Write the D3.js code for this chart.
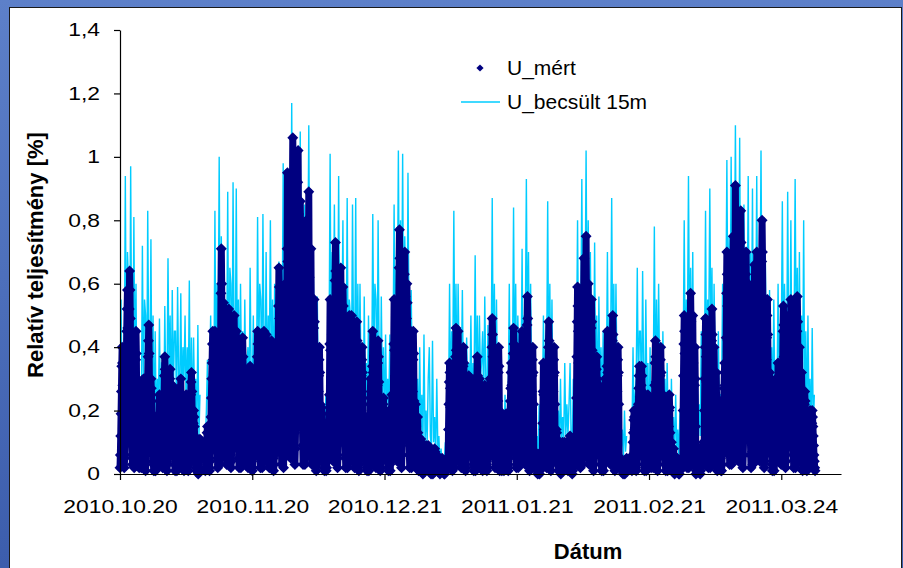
<!DOCTYPE html>
<html>
<head>
<meta charset="utf-8">
<script src="https://cdn.jsdelivr.net/npm/d3@7"></script>
<style>
  body { margin: 0; background: #fff; }
  svg { display: block; }
  text { font-family: Arial, "Liberation Sans", sans-serif; fill: #000; }
</style>
</head>
<body>
<div id="chart"></div>
<script>
// time span of the chart (UTC days)
var startDate = new Date(Date.UTC(2010, 9, 20));
var endDate = new Date(Date.UTC(2011, 3, 7));
var tickDates = ["2010-10-20", "2010-11-20", "2010-12-21", "2011-01-21", "2011-02-21", "2011-03-24"];
var yTicks = [0, 0.2, 0.4, 0.6, 0.8, 1.0, 1.2, 1.4];

// U_mert: measured, one value every 2 hours (12 per day, one row per day), in hundredths
var mertHours = 2;
var mert = [
 2,6,12,19,26,34,40,35,28,20,12,5,
 2,5,9,16,23,31,38,45,52,58,46,32,
 26,40,52,64,58,49,38,29,20,13,6,3,
 27,19,11,5,2,7,16,26,36,45,38,23,
 3,7,11,15,11,6,2,5,8,12,9,5,
 2,5,9,14,20,25,30,26,21,15,9,4,
 1,4,8,13,19,25,31,37,42,47,38,26,
 12,19,25,30,27,23,18,14,10,6,3,1,
 8,5,3,1,1,2,5,8,10,13,11,7,
 5,11,19,25,18,10,4,8,14,20,15,8,
 2,6,11,18,24,31,37,33,26,19,11,4,
 1,3,5,9,13,17,22,26,30,33,26,18,
 11,17,23,28,25,21,17,13,9,6,3,1,
 16,11,7,3,1,4,9,16,22,27,23,14,
 6,14,23,30,21,12,5,9,17,24,18,9,
 1,4,8,12,17,21,25,22,18,13,8,3,
 1,3,5,9,13,17,21,25,29,32,26,18,
 8,12,16,20,18,15,12,9,6,4,2,1,
 7,5,3,1,0,2,4,6,9,11,9,6,
 null,null,null,null,null,null,null,null,null,null,null,null,
 1,2,5,7,10,13,15,13,11,8,5,2,
 1,4,7,12,18,24,30,35,41,45,36,25,
 18,28,37,45,41,34,27,20,14,9,5,2,
 43,30,18,7,3,11,25,41,57,71,60,36,
 11,24,41,54,38,22,8,16,30,43,32,16,
 3,8,16,25,34,44,52,46,36,26,16,6,
 2,4,8,14,20,27,33,39,45,50,40,28,
 18,28,37,45,41,34,27,20,14,9,5,2,
 26,18,11,4,2,6,15,25,34,43,37,22,
 6,14,23,30,21,12,5,9,17,24,18,9,
 2,5,10,16,22,29,34,30,24,17,10,4,
 1,2,5,8,12,16,20,23,27,30,24,17,
 18,28,37,45,41,34,27,20,14,9,5,2,
 27,19,11,5,2,7,16,26,36,45,38,23,
 9,20,33,44,31,18,7,13,24,35,26,13,
 2,6,13,20,28,35,42,37,29,21,13,5,
 1,3,6,11,16,21,26,31,36,40,32,22,
 26,40,53,65,59,49,39,29,21,13,7,3,
 36,25,15,6,2,9,21,35,48,60,51,30,
 19,43,71,95,67,38,14,29,52,76,57,29,
 5,16,32,51,70,89,106,93,74,53,32,13,
 3,8,16,28,41,54,67,80,92,102,82,56,
 34,53,71,86,77,65,52,39,28,17,9,3,
 48,34,20,8,3,12,28,46,64,80,68,40,
 18,40,67,89,62,36,13,27,49,71,53,27,
 3,8,17,26,36,46,55,48,39,28,17,7,
 1,3,6,11,16,21,26,31,36,40,32,22,
 8,13,17,21,19,16,13,9,7,4,2,1,
 9,6,4,2,1,2,5,9,12,15,13,8,
 11,25,41,55,39,22,8,17,30,44,33,17,
 4,11,22,35,48,61,73,64,51,37,22,9,
 2,5,10,18,26,34,43,51,59,65,52,36,
 24,37,48,59,53,45,35,27,19,12,6,2,
 30,21,13,5,2,8,18,29,40,50,43,25,
 10,23,38,50,35,20,8,15,28,40,30,15,
 2,7,14,23,32,40,48,42,34,24,14,6,
 1,3,6,11,16,21,26,31,36,40,32,22,
 7,11,15,18,16,14,11,8,6,4,2,1,
 18,13,8,3,1,5,11,17,24,30,26,15,
 9,20,34,45,32,18,7,14,25,36,27,14,
 2,6,13,20,28,35,42,37,29,21,13,5,
 1,2,4,6,10,13,16,19,22,24,19,13,
 8,12,16,20,18,15,12,9,6,4,2,1,
 15,11,6,3,1,4,9,15,20,25,21,13,
 11,25,41,55,39,22,8,17,30,44,33,17,
 4,12,23,37,51,65,77,68,54,39,23,9,
 2,6,11,19,28,37,46,55,63,70,56,39,
 24,37,49,60,54,46,36,27,19,12,6,2,
 27,19,11,5,2,7,16,26,36,45,38,23,
 4,10,17,22,15,9,3,7,12,18,13,7,
 1,2,3,5,7,9,11,10,8,6,3,1,
 0,1,1,2,4,5,6,7,8,9,7,5,
 4,6,7,9,8,7,5,4,3,2,1,0,
 5,3,2,1,0,1,3,5,6,8,7,4,
 1,3,5,6,4,2,1,2,3,5,4,2,
 0,1,2,2,3,4,5,4,4,3,2,1,
 0,0,1,1,2,3,3,4,5,5,4,3,
 14,22,29,35,32,27,21,16,11,7,4,1,
 28,19,12,5,2,7,16,27,37,46,39,23,
 9,20,34,45,32,18,7,14,25,36,27,14,
 2,6,12,19,26,34,40,35,28,20,12,5,
 1,2,5,8,12,16,20,24,28,31,25,17,
 12,19,25,30,27,23,18,14,10,6,3,1,
 22,16,9,4,1,6,13,21,30,37,31,19,
 6,14,23,30,21,12,5,9,17,24,18,9,
 1,4,8,13,18,24,28,25,20,14,8,3,
 1,2,5,8,12,16,20,23,27,30,24,17,
 20,30,40,49,44,37,29,22,16,10,5,2,
 24,17,10,4,2,6,14,23,32,40,34,20,
 1,3,5,7,5,3,1,2,4,6,4,2,
 1,3,6,9,13,16,19,17,13,10,6,2,
 1,3,6,9,14,19,23,27,32,35,28,19,
 18,29,38,46,41,35,28,21,15,9,5,2,
 24,17,10,4,2,6,14,23,32,40,34,20,
 9,20,34,45,32,18,7,14,25,36,27,14,
 3,8,17,27,37,47,56,49,39,28,17,7,
 1,3,6,11,16,21,26,31,36,40,32,22,
 3,4,6,7,6,5,4,3,2,1,1,0,
 4,3,2,1,0,1,2,4,6,7,6,4,
 7,16,26,35,25,14,5,11,19,28,21,11,
 2,7,14,23,32,40,48,42,34,24,14,6,
 1,3,6,11,16,21,26,31,36,40,32,22,
 6,9,11,14,13,11,8,6,4,3,1,1,
 6,4,3,1,0,2,4,6,8,10,9,5,
 2,5,8,10,7,4,2,3,6,8,6,3,
 1,2,4,6,8,10,12,11,8,6,4,1,
 0,1,2,3,4,5,7,8,9,10,8,6,
 24,37,48,59,53,45,35,27,19,12,6,2,
 41,29,17,7,3,10,24,39,54,68,58,34,
 15,34,56,75,53,30,11,23,41,60,45,23,
 3,8,17,26,36,46,55,48,39,28,17,7,
 1,3,6,10,15,20,24,29,33,37,30,20,
 11,17,23,28,25,21,17,13,9,6,3,1,
 18,13,8,3,1,5,11,17,24,30,26,15,
 9,20,34,45,32,18,7,14,25,36,27,14,
 3,8,15,24,33,42,50,44,35,25,15,6,
 1,3,6,11,16,21,26,31,36,40,32,22,
 2,3,4,5,5,4,3,2,2,1,1,0,
 3,2,1,1,0,1,2,3,4,5,4,3,
 null,null,null,null,null,null,null,null,null,null,null,null,
 1,3,6,10,13,17,20,18,14,10,6,2,
 1,3,5,9,14,18,22,27,31,34,27,19,
 14,21,28,34,31,26,20,15,11,7,3,1,
 15,11,6,3,1,4,9,15,20,25,21,13,
 2,5,8,10,7,4,2,3,6,8,6,3,
 2,6,13,20,28,35,42,37,29,21,13,5,
 1,3,6,11,16,21,26,31,36,40,32,22,
 10,16,21,25,23,19,15,11,8,5,3,1,
 15,11,6,3,1,4,9,15,20,25,21,13,
 2,5,8,10,7,4,2,3,6,8,6,3,
 0,1,2,2,3,4,5,4,4,3,2,1,
 0,0,1,1,2,3,3,4,5,5,4,3,
 20,31,41,50,45,38,30,23,16,10,5,2,
 34,24,14,6,2,9,20,33,46,57,48,29,
 10,23,38,50,35,20,8,15,28,40,30,15,
 0,1,2,4,5,7,8,7,6,4,2,1,
 0,1,2,3,4,5,7,8,9,10,8,6,
 20,30,40,49,44,37,29,22,16,10,5,2,
 31,22,13,5,2,8,18,30,42,52,44,26,
 8,18,30,40,28,16,6,12,22,32,24,12,
 1,2,3,5,7,8,10,9,7,5,3,1,
 1,3,6,9,14,19,23,27,32,35,28,19,
 28,43,57,70,63,53,42,32,22,14,7,3,
 45,32,19,8,3,11,26,44,60,75,64,38,
 18,41,68,91,64,36,14,27,50,73,55,27,
 4,12,25,40,55,70,83,73,58,42,25,10,
 2,6,11,19,28,37,46,55,63,70,56,39,
 24,37,49,60,54,46,36,27,19,12,6,2,
 40,28,17,7,3,10,23,38,53,66,56,33,
 14,32,53,70,49,28,11,21,39,56,42,21,
 4,12,24,38,53,67,80,70,56,40,24,10,
 2,4,9,15,22,29,36,43,50,55,44,30,
 13,20,26,32,29,24,19,14,10,6,3,1,
 18,13,8,3,1,5,11,17,24,30,26,15,
 7,16,26,35,25,14,5,11,19,28,21,11,
 3,8,16,25,35,45,53,47,37,27,16,6,
 2,4,8,14,20,27,33,39,45,50,40,28,
 22,34,45,55,50,42,33,25,18,11,6,2,
 34,24,14,6,2,8,20,32,45,56,48,28,
 8,18,30,40,28,16,6,12,22,32,24,12,
 1,4,8,12,17,22,26,23,18,13,8,3,
 1,2,3,5,8,11,13,16,18,20,16,11,
 8,12,16,20,18,15,12,9,6,4,2,1
];

// U_becsult 15m: estimated, one value every 6 hours (4 per day), in hundredths
var becsultHours = 6;
var becsult = [
 10,55,18,40, 30,94,25,70, 60,20,97,35, 25,81,30,60,
 15,45,10,30, 20,72,25,55, 50,20,83,35, 30,74,20,50,
 10,45,15,30, 20,49,15,35, 35,15,53,25, 25,68,30,50,
 20,58,25,45, 45,20,59,30, 25,57,20,40, 30,50,20,40,
 25,61,15,43, 15,43,20,30, 10,47,12,25, null,null,null,null,
 10,20,36,15, 30,50,25,45, 25,83,30,60, 40,100,35,75,
 30,51,20,45, 35,89,25,65, 60,25,92,40, 30,90,35,55,
 25,60,30,45, 20,55,25,35, 40,20,65,30, 25,50,20,40,
 30,81,35,60, 55,25,82,40, 30,70,25,50, 35,80,30,55,
 25,60,30,45, 40,67,30,55, 45,98,35,70, 40,85,50,75,
 60,117,55,95, 50,95,45,80, 55,108,40,85, 45,85,35,70,
 60,110,50,80, 30,70,40,55, 25,56,20,40, 10,28,12,20,
 8,25,10,18, 40,101,35,70, 45,85,40,70, 35,94,40,65,
 45,80,30,60, 35,87,30,55, 50,30,85,40, 35,87,25,60,
 25,60,30,40, 15,56,20,35, 20,50,25,35, 30,82,35,60,
 55,25,80,35, 20,56,25,40, 15,44,20,30, 20,44,15,35,
 40,85,35,65, 50,102,45,80, 45,101,40,75, 55,30,95,45,
 25,58,30,40, 15,44,20,30, 10,40,12,25, 8,44,10,20,
 10,30,40,12, 8,42,10,18, 5,30,8,12, 2,8,3,5,
 3,10,4,6, 20,60,25,45, 35,83,30,60, 25,60,35,45,
 30,58,25,40, 20,43,25,35, 25,50,20,35, 30,69,25,50,
 20,50,30,35, 45,20,56,30, 20,47,25,35, 35,87,30,60,
 25,55,20,40, 5,20,8,12, 8,25,10,18, 25,60,20,45,
 35,84,30,60, 25,50,30,40, 30,71,25,50, 45,93,40,70,
 30,60,25,40, 8,20,5,12, 6,22,8,14, 20,50,25,40,
 35,86,30,60, 25,55,20,35, 10,32,12,20, 8,30,10,18,
 10,35,12,22, 12,22,35,10, 8,30,10,18, 40,80,35,60,
 45,93,40,70, 50,102,45,80, 35,70,30,55, 30,73,25,50,
 20,56,25,40, 20,45,25,35, 30,70,25,50, 40,87,35,60,
 25,60,30,40, 6,25,8,14, 5,20,7,12, null,null,null,null,
 12,40,15,25, 30,65,25,45, 45,20,64,30, 20,55,25,35,
 10,40,12,22, 30,78,25,55, 25,60,30,40, 15,45,20,30,
 12,35,15,25, 8,30,10,18, 6,25,8,14, 5,20,7,12,
 35,80,30,55, 45,94,40,65, 30,70,25,45, 10,40,12,22,
 12,45,15,25, 35,83,30,55, 45,90,40,65, 25,60,30,40,
 12,45,15,25, 25,60,30,45, 50,99,45,75, 45,100,50,80,
 60,110,55,85, 50,106,45,80, 40,85,35,65, 45,94,40,70,
 40,90,35,65, 45,94,40,70, 50,102,45,80, 30,70,35,50,
 25,58,20,40, 20,55,25,35, 25,60,30,45, 40,86,35,60,
 45,30,89,40, 35,80,30,55, 45,93,40,65, 30,70,25,50,
 25,80,20,45, 15,50,20,30, 12,46,15,25
];

var W = 903, H = 568;
var margin = { left: 120, right: 62, top: 30, bottom: 94 };

var svg = d3.select("#chart").append("svg")
    .attr("width", W)
    .attr("height", H);

// slide background
var defs = svg.append("defs");
var grad = defs.append("linearGradient").attr("id", "bg").attr("x1", 0).attr("y1", 0).attr("x2", 0).attr("y2", 1);
grad.append("stop").attr("offset", "0%").attr("stop-color", "#5d80c9");
grad.append("stop").attr("offset", "100%").attr("stop-color", "#3c5dac");
svg.append("rect").attr("width", W).attr("height", H).attr("fill", "url(#bg)");

// white chart panel
svg.append("rect")
    .attr("x", 9.5).attr("y", 7.5)
    .attr("width", 892).attr("height", H)
    .attr("fill", "#fff")
    .attr("stroke", "#1a1a1a")
    .attr("stroke-width", 1);

var x = d3.scaleUtc()
    .domain([startDate, endDate])
    .range([margin.left, W - margin.right]);

var y = d3.scaleLinear()
    .domain([0, 1.4])
    .range([H - margin.bottom, margin.top]);

var huFormat = d3.formatLocale({ decimal: ",", thousands: " ", grouping: [3], currency: ["", ""] }).format("~g");
var parseDay = d3.utcParse("%Y-%m-%d");

// series with their timestamps
var mertData = mert.map(function (v, i) {
    return { t: d3.utcHour.offset(startDate, i * mertHours), v: v == null ? null : v / 100 };
});
var becsultData = becsult.map(function (v, i) {
    return { t: d3.utcHour.offset(startDate, i * becsultHours), v: v == null ? null : v / 100 };
});

var line = d3.line()
    .defined(function (d) { return d.v != null; })
    .x(function (d) { return x(d.t); })
    .y(function (d) { return y(d.v); });

// estimated series: thin sky-blue line
svg.append("path")
    .datum(becsultData)
    .attr("fill", "none")
    .attr("stroke", "#00ccff")
    .attr("stroke-width", 1.4)
    .attr("stroke-linejoin", "miter")
    .attr("d", line);

// measured series: the dense markers of the original merge into one thick
// navy trace, so draw the trace first and the diamonds on top of it
svg.append("path")
    .datum(mertData)
    .attr("fill", "none")
    .attr("stroke", "#000080")
    .attr("stroke-width", 7)
    .attr("stroke-linejoin", "round")
    .attr("stroke-linecap", "round")
    .attr("d", line);

var diamond = {
    draw: function (ctx, size) {
        var r = Math.sqrt(size / 2);
        ctx.moveTo(0, -r);
        ctx.lineTo(r, 0);
        ctx.lineTo(0, r);
        ctx.lineTo(-r, 0);
        ctx.closePath();
    }
};
var sym = d3.symbol().type(diamond).size(60);

svg.append("g")
    .selectAll("path")
    .data(mertData.filter(function (d) { return d.v != null; }))
    .enter().append("path")
    .attr("transform", function (d) { return "translate(" + x(d.t) + "," + y(d.v) + ")"; })
    .attr("d", sym)
    .attr("fill", "#000080");

// axes
var xAxis = d3.axisBottom(x)
    .tickValues(tickDates.map(parseDay))
    .tickSize(6)
    .tickSizeOuter(0)
    .tickFormat(d3.utcFormat("%Y.%m.%d"));

var gx = svg.append("g")
    .attr("transform", "translate(0," + y(0) + ")")
    .call(xAxis);
gx.selectAll("text")
    .attr("y", 26)
    .attr("font-size", 18)
    .attr("transform", "scale(1.27,1)")
    .attr("dy", "0.71em");

var yAxis = d3.axisLeft(y)
    .tickValues(yTicks)
    .tickSize(6)
    .tickSizeOuter(0)
    .tickFormat(huFormat);

var gy = svg.append("g")
    .attr("transform", "translate(" + margin.left + ",0)")
    .call(yAxis);
gy.selectAll("text")
    .attr("x", -20 / 1.27)
    .attr("font-size", 18)
    .attr("transform", "scale(1.27,1)");

svg.selectAll(".domain, .tick line").attr("stroke", "#000").attr("stroke-width", 1.2);

// axis titles
svg.append("text")
    .attr("transform", "translate(35," + 255 + ") rotate(-90)")
    .attr("text-anchor", "middle")
    .attr("dy", "0.35em")
    .attr("font-size", 22)
    .attr("font-weight", "bold")
    .text("Relatív teljesítmény [%]");

svg.append("text")
    .attr("x", 588)
    .attr("y", 551)
    .attr("text-anchor", "middle")
    .attr("dy", "0.35em")
    .attr("font-size", 22)
    .attr("font-weight", "bold")
    .text("Dátum");

// legend
var legend = svg.append("g");
legend.append("path")
    .attr("transform", "translate(480,68)")
    .attr("d", d3.symbol().type(diamond).size(26))
    .attr("fill", "#000080");
legend.append("text")
    .attr("x", 507).attr("y", 68).attr("dy", "0.35em")
    .attr("font-size", 21)
    .text("U_mért");
legend.append("line")
    .attr("x1", 461).attr("x2", 500)
    .attr("y1", 102).attr("y2", 102)
    .attr("stroke", "#00ccff")
    .attr("stroke-width", 1.4);
legend.append("text")
    .attr("x", 507).attr("y", 102).attr("dy", "0.35em")
    .attr("font-size", 21)
    .text("U_becsült 15m");
</script>
</body>
</html>
